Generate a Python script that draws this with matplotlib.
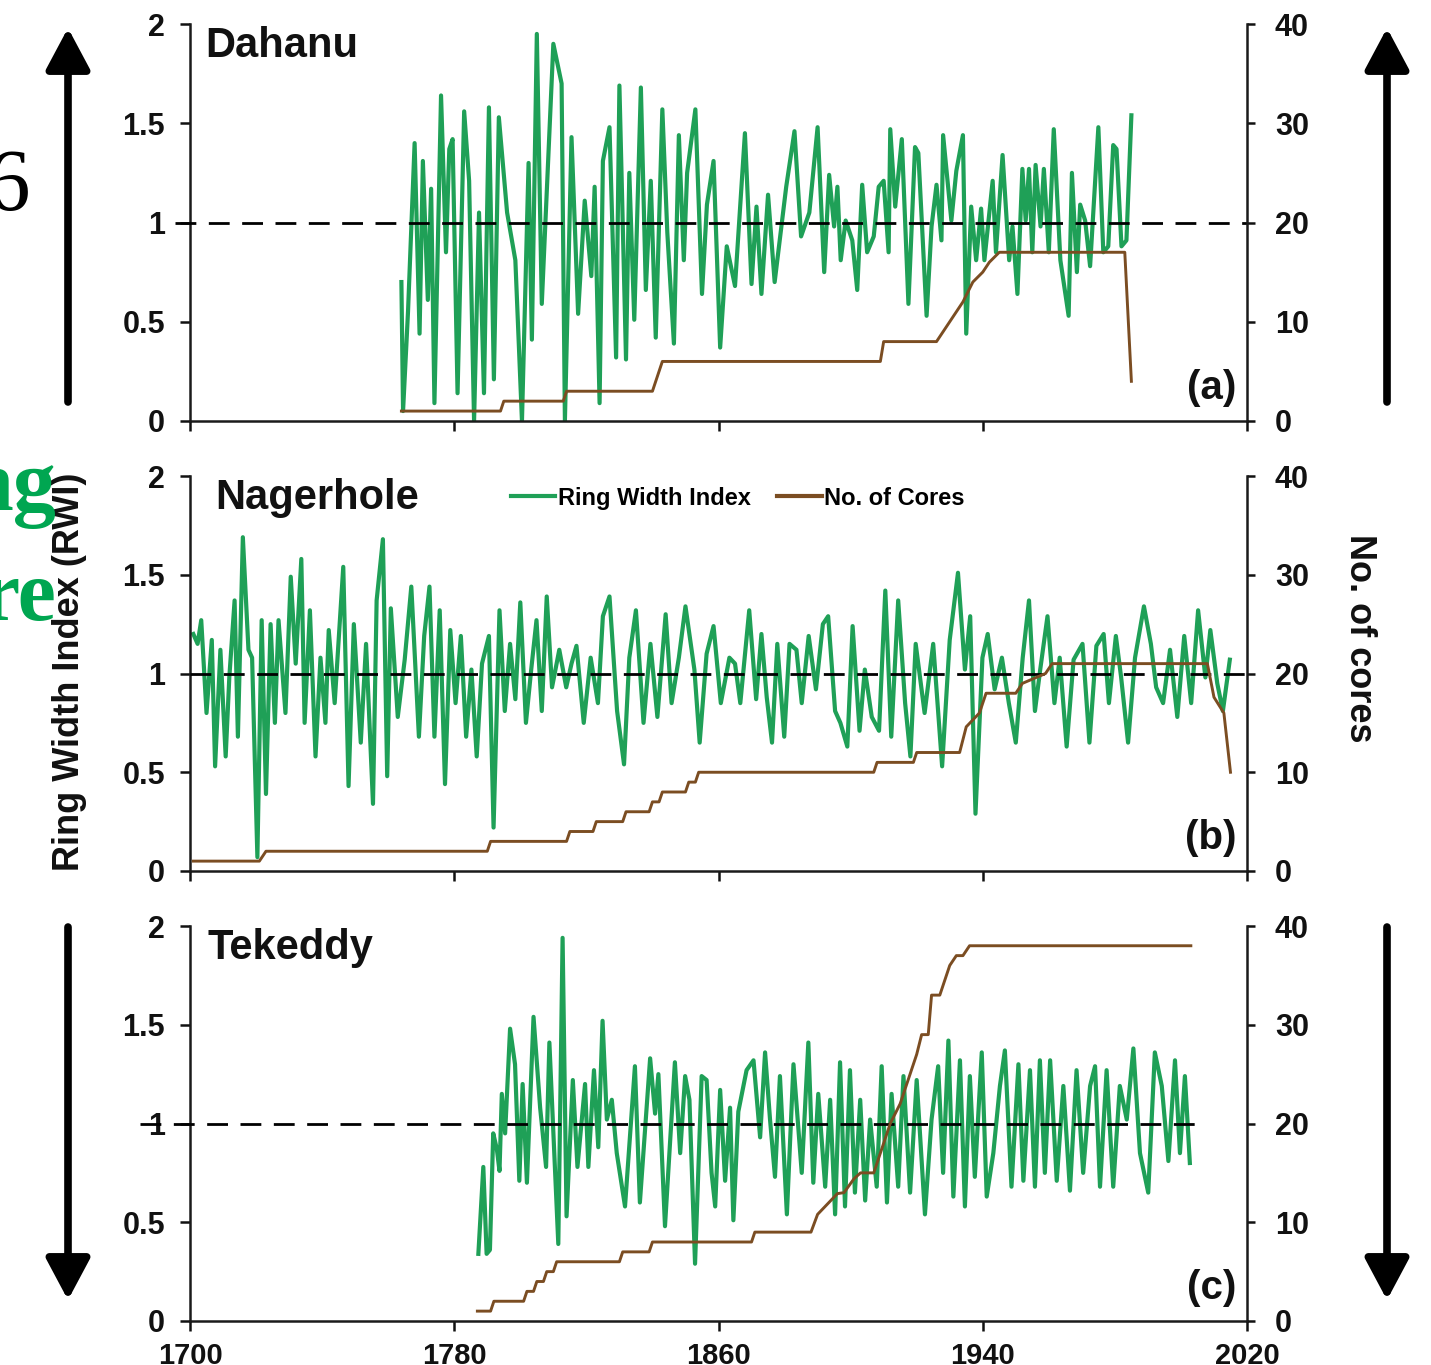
"""
plot.py - ring width index vs number of cores for three sites
(Dahanu, Nagerhole, Tekeddy), stacked panels with twin y axes.
"""

import matplotlib
matplotlib.use("Agg")
import matplotlib.pyplot as plt
from matplotlib.lines import Line2D

plt.rcParams["font.family"] = ["Liberation Sans", "DejaVu Sans"]
plt.rcParams["font.weight"] = "bold"

GREEN = "#1fa057"
BROWN = "#7b4d22"

# ─────────────────────────────────────────────
# DATA
# ─────────────────────────────────────────────

# (a) Dahanu
DAH_YEARS = [1764, 1764.5, 1766, 1768, 1769.5, 1770.5, 1772, 1773, 1774, 1776,
             1777.5, 1778.5, 1779.5, 1781, 1783, 1784.5, 1786, 1787.5, 1789, 1790.5,
             1792, 1793.5, 1796, 1798.5, 1800.5, 1802.5, 1803.5, 1805, 1806.5, 1810,
             1812.5, 1813.5, 1815.5, 1817.5, 1819.5, 1821.5, 1822.5, 1824, 1825, 1827,
             1829, 1830, 1832, 1833, 1834.5, 1836.5, 1838, 1839.5, 1841, 1843,
             1844.5, 1846.5, 1848, 1849.5, 1850.5, 1853, 1855, 1856.5, 1858.5, 1860.5,
             1862.5, 1865, 1868, 1870, 1871.5, 1873, 1875, 1877, 1880.5, 1883,
             1885, 1887.5, 1890, 1892, 1893.5, 1895, 1896, 1897, 1898.5, 1900.5,
             1902, 1903.5, 1905, 1907, 1908.5, 1910, 1911.5, 1912, 1913.5, 1915.5,
             1917.5, 1919.5, 1920.5, 1923, 1924.5, 1926, 1927.5, 1928, 1930.5, 1932,
             1934, 1935, 1936.5, 1938, 1939.5, 1940.5, 1943, 1944, 1946, 1948,
             1949, 1950.5, 1952, 1953, 1954, 1955, 1956, 1957.5, 1958.5, 1960,
             1961.5, 1963.5, 1966, 1967, 1968.5, 1969.5, 1971, 1972.5, 1975, 1976.5,
             1978, 1979.5, 1980.5, 1982, 1983.5, 1985]
DAH_RWI = [0.70, 0.05, 0.55, 1.40, 0.44, 1.31, 0.61, 1.17, 0.09, 1.64,
           0.85, 1.37, 1.42, 0.14, 1.56, 1.21, 0.00, 1.05, 0.14, 1.58,
           0.21, 1.53, 1.05, 0.81, 0.00, 1.30, 0.41, 1.95, 0.59, 1.90,
           1.70, 0.00, 1.43, 0.54, 1.11, 0.73, 1.18, 0.09, 1.31, 1.48,
           0.32, 1.69, 0.31, 1.25, 0.51, 1.68, 0.66, 1.21, 0.42, 1.57,
           0.95, 0.39, 1.44, 0.81, 1.25, 1.57, 0.64, 1.09, 1.31, 0.37,
           0.88, 0.68, 1.45, 0.69, 1.08, 0.64, 1.14, 0.70, 1.18, 1.46,
           0.93, 1.05, 1.48, 0.75, 1.24, 0.98, 1.18, 0.81, 1.01, 0.91,
           0.66, 1.19, 0.85, 0.93, 1.18, 1.21, 0.85, 1.47, 1.08, 1.42,
           0.59, 1.38, 1.35, 0.53, 0.98, 1.19, 0.91, 1.44, 1.01, 1.26,
           1.44, 0.44, 1.08, 0.81, 1.07, 0.81, 1.21, 0.85, 1.34, 0.81,
           0.98, 0.64, 1.27, 1.01, 1.27, 0.85, 1.29, 0.98, 1.27, 0.85,
           1.47, 0.81, 0.53, 1.25, 0.75, 1.09, 1.01, 0.78, 1.48, 0.85,
           0.88, 1.39, 1.37, 0.88, 0.91, 1.54]
DAH_CORE_YEARS = [1764, 1794, 1795, 1813, 1814, 1840, 1843, 1909, 1910, 1926,
                  1928, 1930, 1932, 1934, 1937, 1940, 1942, 1945, 1983, 1985]
DAH_CORES = [1, 1, 2, 2, 3, 3, 6, 6, 8, 8,
             9, 10, 11, 12, 14, 15, 16, 17, 17, 4]

# (b) Nagerhole
NAG_YEARS = [1701, 1702.3, 1703.4, 1705, 1706.6, 1707.6, 1709.2, 1710.8, 1711.9, 1713.5,
             1714.5, 1716, 1717.7, 1718.8, 1720.4, 1721.7, 1723, 1724.4, 1725.7, 1726.8,
             1728.9, 1730.5, 1732, 1733.7, 1734.7, 1736.3, 1738, 1739.5, 1741, 1742,
             1743.8, 1746.4, 1748, 1749.6, 1751.7, 1753.3, 1755.4, 1756.5, 1758.4, 1759.7,
             1760.8, 1762.9, 1765, 1767, 1769.3, 1770.9, 1772.5, 1774, 1775.6, 1777.2,
             1778.8, 1780.4, 1782, 1783.6, 1785.2, 1786.8, 1788.4, 1790.5, 1791.9, 1793.7,
             1795.3, 1796.9, 1798.5, 1800, 1801.7, 1803.3, 1804.9, 1806.5, 1808, 1809.6,
             1811.8, 1813.9, 1815.5, 1817, 1819.2, 1821.3, 1823.5, 1825, 1827, 1829.3,
             1831.4, 1833, 1835, 1837.3, 1839.4, 1841.5, 1844, 1845.8, 1848, 1850,
             1852.7, 1854.3, 1856.4, 1858.5, 1860.7, 1863.3, 1865, 1866.6, 1869.3, 1871.4,
             1873, 1874.6, 1876.2, 1877.8, 1879.9, 1881.5, 1883.6, 1885.2, 1887.3, 1889.5,
             1891.6, 1893.2, 1895.3, 1896.9, 1899, 1900.6, 1902.7, 1904.3, 1906.4, 1908.6,
             1910.5, 1912.3, 1914.4, 1916.5, 1918.1, 1919.7, 1922.4, 1925, 1927.7, 1930,
             1932.5, 1934.6, 1936.2, 1937.8, 1939.9, 1941.5, 1943.6, 1945.8, 1947.9, 1950,
             1952.1, 1954, 1955.8, 1957.4, 1959.6, 1961.7, 1963.3, 1965.4, 1967.5, 1970.2,
             1972.3, 1974.4, 1976.6, 1978.2, 1980.3, 1981.9, 1984, 1986.1, 1988.8, 1990.9,
             1992.5, 1994.6, 1996.7, 1998.9, 2001, 2003.1, 2005.2, 2007.4, 2008.9, 2011,
             2012.7, 2014.8]
NAG_RWI = [1.20, 1.15, 1.27, 0.80, 1.17, 0.53, 1.12, 0.58, 0.98, 1.37,
           0.68, 1.69, 1.12, 1.08, 0.07, 1.27, 0.39, 1.25, 0.75, 1.27,
           0.80, 1.49, 1.05, 1.58, 0.75, 1.32, 0.58, 1.08, 0.75, 1.22,
           0.85, 1.54, 0.43, 1.25, 0.65, 1.15, 0.34, 1.37, 1.68, 0.48,
           1.33, 0.78, 1.07, 1.44, 0.68, 1.19, 1.44, 0.68, 1.32, 0.44,
           1.22, 0.85, 1.19, 0.68, 1.02, 0.58, 1.05, 1.19, 0.22, 1.32,
           0.81, 1.15, 0.87, 1.36, 0.75, 1.02, 1.27, 0.81, 1.39, 0.93,
           1.12, 0.93, 1.05, 1.14, 0.75, 1.08, 0.85, 1.29, 1.39, 0.81,
           0.54, 1.08, 1.32, 0.75, 1.15, 0.78, 1.30, 0.85, 1.08, 1.34,
           1.02, 0.65, 1.10, 1.24, 0.85, 1.08, 1.05, 0.85, 1.32, 0.87,
           1.20, 0.88, 0.65, 1.15, 0.68, 1.15, 1.12, 0.85, 1.19, 0.92,
           1.25, 1.29, 0.81, 0.75, 0.63, 1.24, 0.71, 1.02, 0.78, 0.71,
           1.42, 0.68, 1.37, 0.85, 0.58, 1.15, 0.80, 1.15, 0.53, 1.17,
           1.51, 1.02, 1.29, 0.29, 1.08, 1.20, 0.92, 1.08, 0.85, 0.65,
           1.08, 1.37, 0.81, 1.02, 1.29, 0.85, 1.08, 0.63, 1.07, 1.15,
           0.65, 1.14, 1.20, 0.85, 1.19, 0.98, 0.65, 1.08, 1.34, 1.15,
           0.93, 0.85, 1.12, 0.78, 1.19, 0.85, 1.32, 0.98, 1.22, 0.95,
           0.81, 1.07]
NAG_CORE_YEARS = [1701, 1721, 1723, 1790, 1791, 1814, 1815, 1822, 1823, 1831,
                  1832, 1839, 1840, 1842, 1843, 1850, 1851, 1853, 1854, 1907,
                  1908, 1919, 1920, 1933, 1935, 1939, 1941, 1950, 1952, 1959,
                  1961, 2008, 2010, 2013, 2015]
NAG_CORES = [1, 1, 2, 2, 3, 3, 4, 4, 5, 5,
             6, 6, 7, 7, 8, 8, 9, 9, 10, 10,
             11, 11, 12, 12, 14.6, 16, 18, 18, 19, 20,
             21, 21, 17.6, 16, 10]

# (c) Tekeddy
TEK_YEARS = [1787.3, 1788.8, 1789.8, 1790.8, 1791.8, 1792.9, 1793.7, 1794.4, 1795.4, 1796.9,
             1798.4, 1799.7, 1800.7, 1802, 1804, 1806, 1807.8, 1808.8, 1811.5, 1812.8,
             1814, 1815.9, 1817.3, 1819.6, 1820.6, 1822.3, 1823.6, 1824.9, 1826.2, 1827.7,
             1829.2, 1831.7, 1834.7, 1836.2, 1839.3, 1840.8, 1841.8, 1843.8, 1846.8, 1848.4,
             1849.9, 1851.2, 1852.9, 1854.9, 1856.4, 1857.9, 1859, 1860.5, 1862, 1863.5,
             1864.5, 1866, 1868.5, 1870.6, 1872.6, 1874.1, 1875.6, 1877.1, 1878.6, 1880.7,
             1882.7, 1885.2, 1887.2, 1888.7, 1890.2, 1892.3, 1893.8, 1895.3, 1896.8, 1898.3,
             1899.8, 1901.3, 1902.9, 1904.4, 1905.9, 1907.9, 1909.4, 1911, 1912.4, 1914.4,
             1916, 1918, 1920, 1922.5, 1924.5, 1926.5, 1928, 1929.6, 1931.1, 1933.1,
             1934.6, 1936.1, 1937.6, 1939.7, 1941.2, 1943.2, 1945.2, 1946.7, 1948.7, 1950.8,
             1952.3, 1954.3, 1955.8, 1957.3, 1958.8, 1960.4, 1962.4, 1964.4, 1966.4, 1968.4,
             1970.4, 1972.5, 1974, 1975.5, 1977.5, 1979.5, 1981.5, 1983.6, 1985.6, 1987.6,
             1990.1, 1992.1, 1994.2, 1996.2, 1998.2, 1999.7, 2001.2, 2002.7]
TEK_RWI = [0.34, 0.78, 0.34, 0.36, 0.95, 0.87, 0.76, 1.15, 0.95, 1.48,
           1.30, 0.71, 1.20, 0.70, 1.54, 1.08, 0.78, 1.41, 0.39, 1.94,
           0.53, 1.22, 0.78, 1.20, 0.78, 1.27, 0.88, 1.52, 1.02, 1.12,
           0.85, 0.58, 1.29, 0.60, 1.33, 1.05, 1.25, 0.48, 1.31, 0.85,
           1.24, 1.12, 0.29, 1.24, 1.22, 0.75, 0.58, 1.17, 0.71, 1.08,
           0.51, 1.06, 1.27, 1.32, 0.93, 1.36, 1.02, 0.73, 1.24, 0.54,
           1.30, 0.75, 1.41, 0.70, 1.15, 0.68, 1.12, 0.54, 1.31, 0.58,
           1.27, 0.65, 1.12, 0.61, 1.02, 0.68, 1.29, 0.60, 1.15, 0.68,
           1.24, 0.65, 1.22, 0.54, 1.02, 1.29, 0.75, 1.42, 0.63, 1.32,
           0.58, 1.24, 0.73, 1.36, 0.63, 0.85, 1.19, 1.37, 0.68, 1.30,
           0.71, 1.27, 0.68, 1.32, 0.75, 1.32, 0.71, 1.19, 0.66, 1.27,
           0.75, 1.19, 1.29, 0.68, 1.27, 0.68, 1.19, 1.02, 1.38, 0.85,
           0.65, 1.36, 1.19, 0.81, 1.32, 0.85, 1.24, 0.80]
TEK_CORE_YEARS = [1787, 1791, 1792, 1801, 1802, 1804, 1805, 1807, 1808, 1810,
                  1811, 1813, 1830, 1831, 1839, 1840, 1870, 1871, 1888, 1890,
                  1892, 1894, 1896, 1898, 1901, 1903, 1907, 1909, 1912, 1915,
                  1918, 1920, 1921.5, 1923.5, 1924.5, 1927, 1928.5, 1930, 1932, 1934,
                  1936, 2003]
TEK_CORES = [1, 1, 2, 2, 3, 3, 4, 4, 5, 5,
             6, 6, 6, 7, 7, 8, 8, 9, 9, 10.8,
             11.5, 12.2, 12.9, 13, 14.4, 15, 15, 17, 20, 22,
             25, 27, 29, 29, 33, 33, 34.5, 36, 37, 37,
             38, 38]

SITES = ["Dahanu", "Nagerhole", "Tekeddy"]
TAGS = ["(a)", "(b)", "(c)"]
XTICKS = [1700, 1780, 1860, 1940, 2020]
LEFT_TICKS = [0, 0.5, 1, 1.5, 2]
LEFT_TICKLABELS = ["0", "0.5", "1", "1.5", "2"]
RIGHT_TICKS = [0, 10, 20, 30, 40]

# ─────────────────────────────────────────────
# LAYOUT (pixels of the 1431x1365 canvas)
# ─────────────────────────────────────────────

W, H = 1431, 1365
X_LEFT, X_RIGHT = 190, 1247
PANEL_PX = [(24, 421), (476, 871), (926, 1321)]   # (top, bottom)
DASH_SPAN = [(1695.5, 2020), (1700, 2020), (1685, 2007)]
TITLE_X = [0.014, 0.024, 0.017]

fig = plt.figure(figsize=(W / 100, H / 100), dpi=100)
fig.patch.set_facecolor("white")

series = [
    (DAH_YEARS, DAH_RWI, DAH_CORE_YEARS, DAH_CORES),
    (NAG_YEARS, NAG_RWI, NAG_CORE_YEARS, NAG_CORES),
    (TEK_YEARS, TEK_RWI, TEK_CORE_YEARS, TEK_CORES),
]

for i, (yrs, rwi, cyrs, cores) in enumerate(series):
    top, bot = PANEL_PX[i]
    ax = fig.add_axes([X_LEFT / W, (H - bot) / H,
                       (X_RIGHT - X_LEFT) / W, (bot - top) / H])
    ax2 = ax.twinx()

    ax.plot(yrs, rwi, color=GREEN, lw=3.0, solid_joinstyle="round", zorder=2)
    ax.plot(DASH_SPAN[i], [1, 1], color="black", lw=2.0,
            dashes=(7.5, 4.5), zorder=3, clip_on=False)
    ax2.plot(cyrs, cores, color=BROWN, lw=2.1, zorder=3)

    ax.set_xlim(1700, 2020)
    ax.set_ylim(0, 2)
    ax2.set_ylim(0, 40)
    ax.set_xticks(XTICKS)
    ax.set_yticks(LEFT_TICKS)
    ax.set_yticklabels(LEFT_TICKLABELS)
    ax2.set_yticks(RIGHT_TICKS)

    for a in (ax, ax2):
        for s in a.spines.values():
            s.set_linewidth(1.8)
            s.set_color("#1a1a1a")
        a.spines["top"].set_visible(False)
    ax.spines["right"].set_visible(False)
    ax2.spines["left"].set_visible(False)
    ax2.spines["bottom"].set_visible(False)

    ax.tick_params(axis="y", direction="out", length=7, width=1.8,
                   pad=11, labelsize=22, colors="#111111")
    ax2.tick_params(axis="y", direction="out", length=6, width=1.8,
                    pad=14, labelsize=22, colors="#111111")
    ax.tick_params(axis="x", direction="out", length=7, width=1.8,
                   pad=8, labelsize=21, colors="#111111",
                   labelbottom=(i == 2))

    ax.text(TITLE_X[i], 0.995, SITES[i], transform=ax.transAxes,
            ha="left", va="top", fontsize=30, fontweight="bold", color="#111111")
    ax.text(0.99, 0.035, TAGS[i], transform=ax.transAxes,
            ha="right", va="bottom", fontsize=29, fontweight="bold", color="#111111")

    if i == 1:
        handles = [Line2D([], [], color=GREEN, lw=3),
                   Line2D([], [], color=BROWN, lw=3)]
        ax2.legend(handles, ["Ring Width Index", "No. of Cores"],
                   loc="center", bbox_to_anchor=(0.518, 0.944), ncol=2,
                   frameon=False, handlelength=1.9, handletextpad=0.1,
                   columnspacing=1.1, borderaxespad=0,
                   prop={"weight": "bold", "size": 17})

# axis titles
fig.text(70 / W, 1 - 672 / H, "Ring Width Index (RWI)", rotation=90,
         ha="center", va="center", fontsize=26, fontweight="bold", color="#111111")
fig.text(1360 / W, 1 - 638 / H, "No. of cores", rotation=270,
         ha="center", va="center", fontsize=26, fontweight="bold", color="#111111")

# big arrows either side (pixels measured from the top)
ARROWS = [(68, 402, 28), (68, 927, 1300), (1387, 402, 28), (1387, 927, 1300)]
for x, y_tail, y_tip in ARROWS:
    fig.add_artist(plt.Annotation(
        "", xy=(x / W, 1 - y_tip / H), xytext=(x / W, 1 - y_tail / H),
        xycoords="figure fraction", textcoords="figure fraction",
        arrowprops=dict(arrowstyle="-|>,head_length=0.9,head_width=0.48",
                        mutation_scale=28, lw=5.5, color="black",
                        shrinkA=0, shrinkB=0)))

# slide leftovers cut by the left edge
fig.text(30 / W, 1 - 210 / H, "6", ha="right", va="baseline",
         fontsize=64, family="Liberation Serif", fontweight="normal", color="black")
fig.text(57 / W, 1 - 510 / H, "ng", ha="right", va="baseline",
         fontsize=62, family="Liberation Serif", fontweight="bold", color="#00a651")
fig.text(57 / W, 1 - 620 / H, "re", ha="right", va="baseline",
         fontsize=62, family="Liberation Serif", fontweight="bold", color="#00a651")

fig.savefig("out.png", dpi=100, facecolor="white")
